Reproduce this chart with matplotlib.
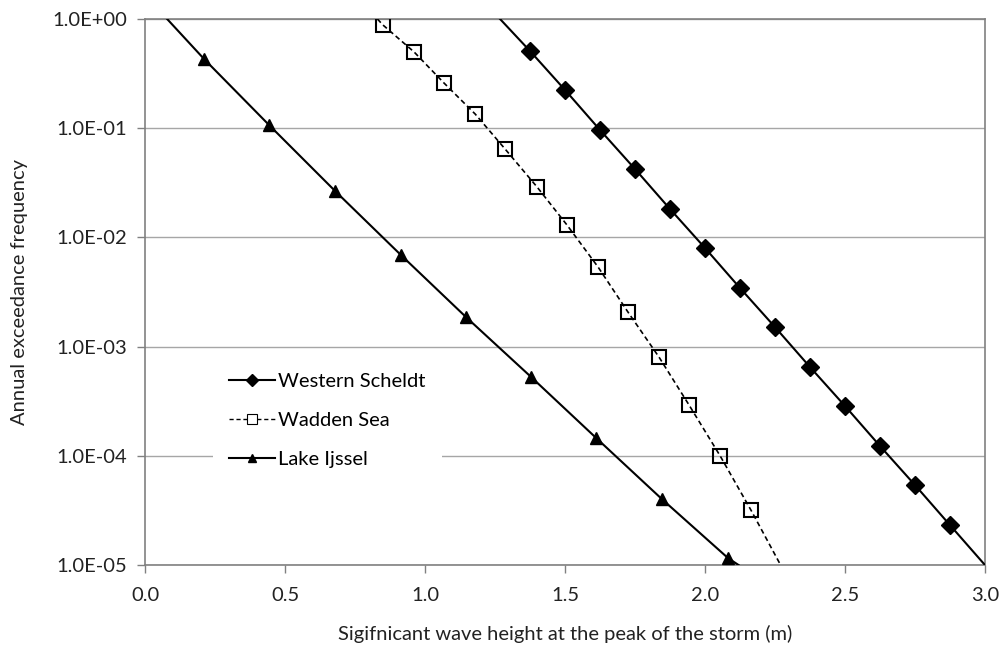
import matplotlib
matplotlib.use("Agg")
import matplotlib.pyplot as plt
import numpy as np

plt.rcParams['font.family'] = ['Lato', 'DejaVu Sans']

# Western Scheldt
ws_x = [1.375, 1.5, 1.625, 1.75, 1.875, 2.0, 2.125, 2.25, 2.375, 2.5, 2.625, 2.75, 2.875]
ws_y = [0.509, 0.224, 0.0963, 0.0423, 0.0182, 0.0080, 0.00344, 0.00151, 6.5e-4, 2.86e-4, 1.23e-4, 5.4e-5, 2.32e-5]
ws_line_start = (1.268, 1.0)
ws_line_end = (3.0, 1.0e-5)

# Wadden Sea
wad_x = [0.85, 0.961, 1.068, 1.179, 1.286, 1.40, 1.507, 1.618, 1.725, 1.836, 1.943, 2.054, 2.164]
wad_y = [0.88, 0.499, 0.259, 0.135, 0.0645, 0.029, 0.013, 0.00536, 0.00207, 8.0e-4, 2.92e-4, 1.0e-4, 3.19e-5]
wad_line_start = (0.83, 1.0)
wad_line_end = (2.27, 1.0e-5)

# Lake Ijssel
li_x = [0.211, 0.443, 0.679, 0.914, 1.146, 1.379, 1.611, 1.846, 2.082]
li_y = [0.430, 0.107, 0.0266, 0.0069, 0.00187, 5.27e-4, 1.46e-4, 4.02e-5, 1.16e-5]
li_line_start = (0.079, 1.0)
li_line_end = (2.12, 1.0e-5)

x_ticks = [0.0, 0.5, 1.0, 1.5, 2.0, 2.5, 3.0]
y_ticks = [1e-5, 1e-4, 1e-3, 1e-2, 1e-1, 1e0]
y_ticklabels = ['1.0E-05', '1.0E-04', '1.0E-03', '1.0E-02', '1.0E-01', '1.0E+00']

FS = 14.5

fig = plt.figure(figsize=(10, 6.48), dpi=100)
ax = fig.add_axes([0.145, 0.128, 0.84, 0.8427])


def full(xs, ys, s, e):
    return [s[0]] + list(xs) + [e[0]], [s[1]] + list(ys) + [e[1]]

lx, ly = full(ws_x, ws_y, ws_line_start, ws_line_end)
ax.plot(lx, ly, color='black', lw=1.5, zorder=3)
ax.plot(ws_x, ws_y, ls='none', marker='D', ms=9, color='black', zorder=4)
h1, = ax.plot([], [], color='black', lw=1.5, marker='D', ms=6, label='Western Scheldt')

lx, ly = full(wad_x, wad_y, wad_line_start, wad_line_end)
ax.plot(lx, ly, color='black', lw=1.2, ls=(0, (3, 2)), zorder=3)
ax.plot(wad_x, wad_y, ls='none', marker='s', ms=10, mfc='none', mec='black', mew=1.5, zorder=4)
h2, = ax.plot([], [], color='black', lw=1.0, ls=(0, (3, 2)), marker='s', ms=7, mfc='white', mec='black', mew=0.8, label='Wadden Sea')

lx, ly = full(li_x, li_y, li_line_start, li_line_end)
ax.plot(lx, ly, color='black', lw=1.5, zorder=3)
ax.plot(li_x, li_y, ls='none', marker='^', ms=8.5, color='black', zorder=4)
h3, = ax.plot([], [], color='black', lw=1.5, marker='^', ms=6, label='Lake Ijssel')

ax.set_yscale('log')
ax.set_xlim(0, 3.0)
ax.set_ylim(1e-5, 1.0)
ax.set_xticks(x_ticks)
ax.set_xticklabels([f'{v:.1f}' for v in x_ticks])
ax.set_yticks(y_ticks)
ax.set_yticklabels(y_ticklabels)
ax.yaxis.set_minor_locator(matplotlib.ticker.NullLocator())
ax.tick_params(axis='both', labelsize=FS, colors='#808080', labelcolor='#222222', length=6, width=1)
ax.tick_params(axis='x', pad=10)
ax.tick_params(axis='y', pad=7)
ax.grid(axis='y', color='#a6a6a6', lw=1)
ax.set_axisbelow(True)
for s in ['left', 'bottom', 'top', 'right']:
    ax.spines[s].set_color('#808080')
    ax.spines[s].set_linewidth(1.2)

ax.set_xlabel('Sigifnicant wave height at the peak of the storm (m)', fontsize=FS, labelpad=15, color='#222222')
ax.set_ylabel('Annual exceedance frequency', fontsize=FS, labelpad=17, color='#222222')

leg = ax.legend(handles=[h1, h2, h3], loc='upper left', bbox_to_anchor=(0.069, 0.40),
                frameon=True, facecolor='white', edgecolor='none', framealpha=1,
                fontsize=FS, handlelength=2.3, handletextpad=0.15, labelspacing=1.1,
                borderpad=0.8, fancybox=False)
leg.set_zorder(10)

fig.savefig('out.png', dpi=100)
